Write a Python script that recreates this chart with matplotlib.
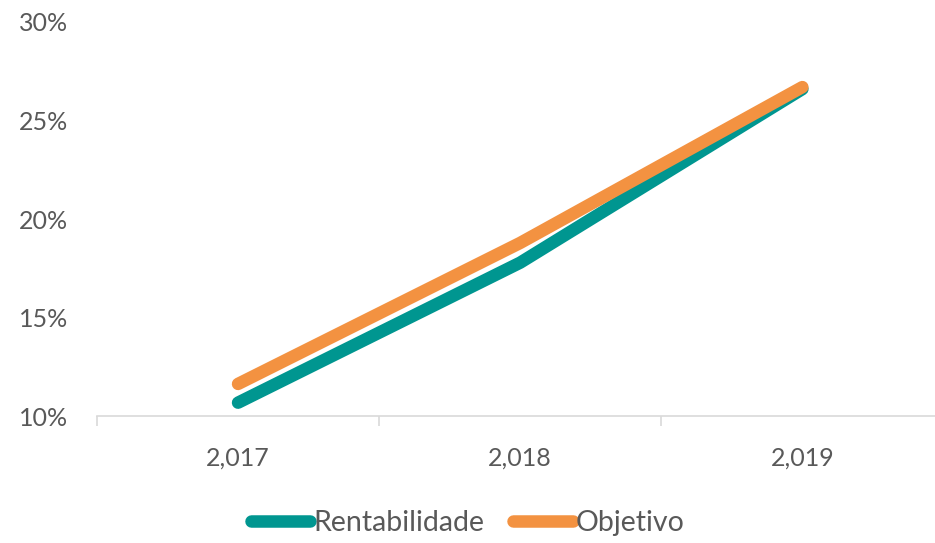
import matplotlib.pyplot as plt
from matplotlib.ticker import FuncFormatter, FixedLocator

plt.rcParams['font.family'] = ['Lato', 'DejaVu Sans']

years = ["2,017", "2,018", "2,019"]
rentabilidade = [10.7, 17.8, 26.6]
objetivo = [11.65, 18.8, 26.7]

teal = "#009690"
orange = "#F39241"
grey = "#595959"

fig = plt.figure(figsize=(9.35, 5.43), dpi=100)
ax = fig.add_axes([0.1037, 0.233, 0.8963, 0.7265])

x = range(len(years))
ax.plot(x, rentabilidade, color=teal, lw=9, solid_capstyle='round', solid_joinstyle='round', label="Rentabilidade")
ax.plot(x, objetivo, color=orange, lw=9, solid_capstyle='round', solid_joinstyle='round', label="Objetivo")

ax.set_ylim(10, 30)
ax.set_yticks([10, 15, 20, 25, 30])
ax.yaxis.set_major_formatter(FuncFormatter(lambda v, p: f"{v:.0f}%"))
ax.set_xlim(-0.5, 2.47)
ax.set_xticks(list(x))
ax.set_xticklabels(years)
ax.xaxis.set_minor_locator(FixedLocator([-0.5, 0.5, 1.5, 2.5]))

for s in ["top", "right", "left"]:
    ax.spines[s].set_visible(False)
ax.spines["bottom"].set_color("#D9D9D9")
ax.spines["bottom"].set_linewidth(1.2)

ax.tick_params(axis='y', length=0, pad=21, labelsize=18, labelcolor=grey)
ax.tick_params(axis='x', which='major', length=0, pad=22, labelsize=18, labelcolor=grey)
ax.tick_params(axis='x', which='minor', length=7, width=1.2, color="#D9D9D9")

fig.legend(loc='center', bbox_to_anchor=(0.5, 0.037), ncol=2, frameon=False,
           fontsize=20.5, labelcolor=grey, handlelength=2.1, handletextpad=0.1,
           columnspacing=1.0)

fig.savefig("out.png", dpi=100)
